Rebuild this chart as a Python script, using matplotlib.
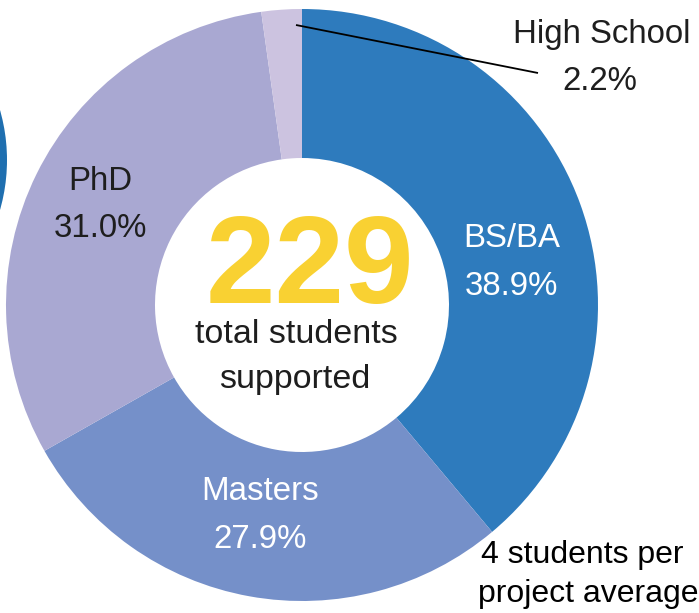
import matplotlib
matplotlib.use("Agg")
import matplotlib.pyplot as plt
from matplotlib.patches import Circle

plt.rcParams['font.family'] = ['Liberation Sans', 'DejaVu Sans']

# ---- data ----
categories = ["BS/BA", "Masters", "PhD", "High School"]
shares = [38.9, 27.9, 31.0, 2.2]
colors = ["#2E7BBD", "#7590C9", "#A9A8D2", "#CCC3E0"]
total_students = "229"
center_line1 = "total students"
center_line2 = "supported"
note_lines = ["4 students per", "project average"]

W, H = 699, 613
fig = plt.figure(figsize=(W / 100, H / 100), dpi=100)
ax = fig.add_axes([0, 0, 1, 1])

def Y(y):
    return H - y

cx, cy = 302, Y(305)
R, ring = 296, 149

ax.pie(shares, colors=colors, startangle=90, counterclock=False,
       radius=R, center=(cx, cy),
       wedgeprops=dict(width=ring, edgecolor='none', linewidth=0))

# partial ring of a neighbouring chart at the left edge
ax.add_patch(Circle((-175, Y(160)), 182, facecolor="#1F6FB0", edgecolor='none'))

ax.set_xlim(0, W)
ax.set_ylim(0, H)
ax.set_aspect('equal')
ax.axis('off')

fs = 23.8
dark = "#1E1E1E"
# (name x, name baseline), (value x, value baseline), colour
label_pos = {
    "BS/BA": ((512, 247), (511, 295), "white"),
    "Masters": ((260, 500), (260, 548), "white"),
    "PhD": ((100, 190), (100, 237), dark),
    "High School": ((602, 43), (600, 90), dark),
}
for cat, val in zip(categories, shares):
    (x1, y1), (x2, y2), c = label_pos[cat]
    ax.text(x1, Y(y1), cat, ha='center', va='baseline', fontsize=fs, color=c)
    ax.text(x2, Y(y2), f"{val:.1f}%", ha='center', va='baseline', fontsize=fs, color=c)

# leader line for High School
ax.plot([296, 538], [Y(25), Y(73)], color='black', lw=1.3, solid_capstyle='butt')

# center text
ax.text(310, Y(303), total_students, ha='center', va='baseline', fontsize=90,
        fontweight='bold', color="#F9D132")
ax.text(296, Y(343), center_line1, ha='center', va='baseline', fontsize=24.5, color=dark)
ax.text(295, Y(388), center_line2, ha='center', va='baseline', fontsize=24.5, color=dark)

# note
ax.text(582, Y(563), note_lines[0], ha='center', va='baseline', fontsize=23, color='black')
ax.text(588, Y(602), note_lines[1], ha='center', va='baseline', fontsize=23, color='black')

fig.savefig("out.png", dpi=100)
